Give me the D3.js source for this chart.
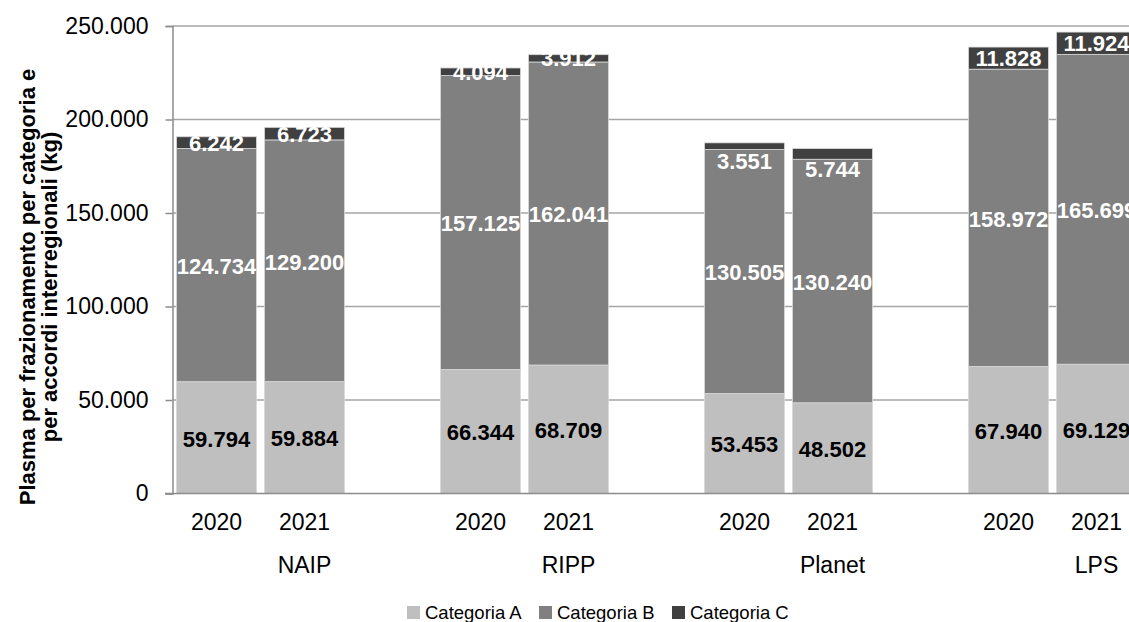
<!DOCTYPE html>
<html>
<head>
<meta charset="utf-8">
<script src="https://cdn.jsdelivr.net/npm/d3@7"></script>
<style>
  html, body { margin: 0; padding: 0; background: #fff; }
  svg { display: block; font-family: "Liberation Sans", Arial, sans-serif; }
</style>
</head>
<body>
<svg id="chart" width="1129" height="622"></svg>
<script>
// ---- data ----
const groups = ["NAIP", "RIPP", "Planet", "LPS"];
const years = ["2020", "2021"];
const seriesNames = ["Categoria A", "Categoria B", "Categoria C"];
// values ordered: NAIP 2020, NAIP 2021, RIPP 2020, RIPP 2021, Planet 2020, Planet 2021, LPS 2020, LPS 2021
const catA = [59794, 59884, 66344, 68709, 53453, 48502, 67940, 69129];
const catB = [124734, 129200, 157125, 162041, 130505, 130240, 158972, 165699];
const catC = [6242, 6723, 4094, 3912, 3551, 5744, 11828, 11924];
const yTicks = [0, 50000, 100000, 150000, 200000, 250000];
const colors = ["#bfbfbf", "#808080", "#404040"];
const labelColors = ["#000", "#fff", "#fff"];

// ---- build rows ----
const rows = [];
groups.forEach((g, gi) => years.forEach((y, yi) => {
  const i = gi * years.length + yi;
  rows.push({ group: g, year: y, A: catA[i], B: catB[i], C: catC[i] });
}));
const stack = d3.stack().keys(["A", "B", "C"])(rows);

const svg = d3.select("#chart");
const fmt = v => d3.format(",")(v).replace(/,/g, ".");

const x0 = d3.scaleBand().domain(groups).range([172.5, 1228.5]).padding(0);
const x1 = d3.scaleBand().domain(years).range([4, 172]).paddingInner(8 / 88).paddingOuter(0);
const y = d3.scaleLinear().domain([0, 250000]).range([493.5, 26]);

// gridlines
svg.append("g").selectAll("line").data(yTicks.filter(t => t > 0)).join("line")
  .attr("x1", 172.5).attr("x2", 1129)
  .attr("y1", d => y(d)).attr("y2", d => y(d))
  .attr("stroke", "#a6a6a6").attr("stroke-width", 1.5);

// y axis
const yAxis = svg.append("g").attr("transform", "translate(172.5,0)")
  .call(d3.axisLeft(y).tickValues(yTicks).tickSize(7).tickPadding(17).tickFormat(fmt));
yAxis.select(".domain").attr("stroke", "#8c8c8c").attr("stroke-width", 1.5);
yAxis.selectAll(".tick line").attr("stroke", "#8c8c8c").attr("stroke-width", 1.5);
yAxis.selectAll(".tick text").attr("font-size", 23).attr("fill", "#000")
  .attr("font-family", "Liberation Sans, Arial, sans-serif");

// bars
const layer = svg.append("g").selectAll("g").data(stack).join("g")
  .attr("fill", (d, i) => colors[i]);
layer.selectAll("rect").data(d => d).join("rect")
  .attr("x", d => x0(d.data.group) + x1(d.data.year))
  .attr("width", x1.bandwidth())
  .attr("y", d => y(d[1]))
  .attr("height", d => y(d[0]) - y(d[1]))
  .attr("stroke", "#d9d9d9").attr("stroke-width", 0.8);

// bottom axis line
svg.append("line").attr("x1", 165).attr("x2", 1129)
  .attr("y1", y(0)).attr("y2", y(0))
  .attr("stroke", "#8c8c8c").attr("stroke-width", 1.5);

// data labels
const labelShift = { Planet: 15 };
stack.forEach((s, si) => {
  svg.append("g").selectAll("text").data(s).join("text")
    .attr("x", d => x0(d.data.group) + x1(d.data.year) + x1.bandwidth() / 2)
    .attr("y", d => (y(d[0]) + y(d[1])) / 2 + (si === 2 ? (labelShift[d.data.group] || 0) : 1))
    .attr("dy", "0.36em")
    .attr("text-anchor", "middle")
    .attr("font-size", 22).attr("font-weight", "bold")
    .attr("fill", labelColors[si])
    .text(d => fmt(d[1] - d[0]));
});

// x labels: years
svg.append("g").selectAll("text").data(rows).join("text")
  .attr("x", d => x0(d.group) + x1(d.year) + x1.bandwidth() / 2)
  .attr("y", 530)
  .attr("text-anchor", "middle").attr("font-size", 23).attr("fill", "#000")
  .text(d => d.year);
// x labels: groups
svg.append("g").selectAll("text").data(groups).join("text")
  .attr("x", d => x0(d) + x0.bandwidth() / 2)
  .attr("y", 573)
  .attr("text-anchor", "middle").attr("font-size", 23).attr("fill", "#000")
  .text(d => d);

// y title
const yt = svg.append("text")
  .attr("transform", "translate(0,287) rotate(-90)")
  .attr("text-anchor", "middle").attr("font-size", 22).attr("font-weight", "bold").attr("fill", "#000");
yt.append("tspan").attr("x", 0).attr("y", 35).text("Plasma per frazionamento per categoria e");
yt.append("tspan").attr("x", 0).attr("y", 57).text("per accordi interregionali (kg)");

// legend
const legendX = [407, 539, 672];
const lg = svg.append("g").selectAll("g").data(seriesNames).join("g")
  .attr("transform", (d, i) => `translate(${legendX[i]},606)`);
lg.append("rect").attr("width", 13).attr("height", 13).attr("fill", (d, i) => colors[i]);
lg.append("text").attr("x", 18).attr("y", 12.5).attr("font-size", 18.5).attr("fill", "#000").text(d => d);
</script>
</body>
</html>
